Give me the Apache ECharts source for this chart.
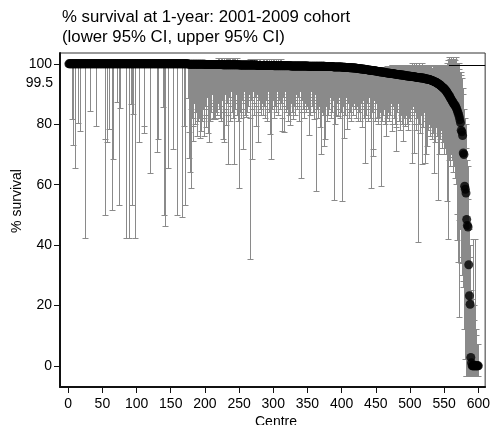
<!DOCTYPE html>
<html>
<head>
<meta charset="utf-8">
<script src="https://cdn.jsdelivr.net/npm/echarts@6/dist/echarts.min.js"></script>
<style>html,body{margin:0;padding:0;background:#fff}#chart{width:493px;height:425px}</style>
</head>
<body>
<div id="chart"></div>
<script>
// centres are ranked 1..600, 25 per row
var est = [
100,100,100,100,100,100,100,100,100,100,100,100,100,100,100,100,100,100,100,100,100,100,100,100,100,
100,100,100,100,100,100,100,100,100,100,100,100,100,100,100,100,100,100,100,100,100,100,100,100,100,
100,100,100,100,100,100,100,100,100,100,100,100,100,100,100,100,100,100,100,100,100,100,100,100,100,
100,100,100,100,100,100,100,100,100,100,100,100,100,100,100,100,100,100,100,100,100,100,100,100,100,
100,100,100,100,100,100,100,100,100,100,100,100,100,100,100,100,100,100,100,100,100,100,100,100,100,
100,100,100,100,100,100,100,100,100,100,100,100,100,100,100,100,100,100,100,100,100,100,100,100,100,
100,100,100,100,100,100,100,100,100,100,100,100,100,100,100,100,100,100,100,100,100,100,100,100,100,
99.9,99.9,99.9,99.9,99.9,99.9,99.9,99.9,99.9,99.9,99.9,99.9,99.9,99.9,99.9,99.9,99.9,99.9,99.9,99.9,99.9,99.9,99.9,99.9,99.9,
99.8,99.8,99.8,99.8,99.8,99.8,99.8,99.8,99.8,99.8,99.8,99.8,99.8,99.8,99.8,99.8,99.8,99.8,99.8,99.8,99.8,99.8,99.8,99.8,99.8,
99.7,99.7,99.7,99.7,99.7,99.7,99.7,99.7,99.7,99.7,99.7,99.7,99.7,99.7,99.7,99.7,99.7,99.7,99.7,99.7,99.7,99.7,99.7,99.7,99.7,
99.6,99.6,99.6,99.6,99.6,99.6,99.6,99.6,99.6,99.6,99.6,99.6,99.6,99.6,99.6,99.6,99.6,99.6,99.6,99.6,99.6,99.6,99.6,99.6,99.6,
99.5,99.5,99.5,99.5,99.5,99.5,99.5,99.5,99.5,99.5,99.5,99.5,99.5,99.5,99.5,99.5,99.5,99.5,99.5,99.5,99.5,99.5,99.5,99.5,99.5,
99.4,99.4,99.4,99.4,99.4,99.4,99.4,99.4,99.4,99.4,99.4,99.4,99.4,99.4,99.4,99.4,99.4,99.4,99.4,99.4,99.4,99.4,99.4,99.4,99.4,
99.3,99.3,99.3,99.3,99.3,99.3,99.3,99.3,99.3,99.3,99.3,99.3,99.3,99.3,99.3,99.3,99.3,99.3,99.3,99.3,99.3,99.3,99.3,99.3,99.3,
99.2,99.2,99.2,99.2,99.2,99.2,99.2,99.2,99.2,99.2,99.2,99.2,99.2,99.2,99.2,99.2,99.2,99.2,99.2,99.2,99.2,99.2,99.2,99.2,99.2,
99.1,99.1,99.1,99.1,99.1,99.1,99.1,99.1,99.1,99.1,99.1,99.1,99,99,99,99,99,99,99,99,99,99,99,99,99,
98.9,98.9,98.9,98.9,98.9,98.8,98.8,98.8,98.8,98.8,98.8,98.7,98.7,98.7,98.7,98.7,98.6,98.6,98.6,98.6,98.6,98.5,98.5,98.5,98.5,
98.4,98.4,98.4,98.3,98.3,98.3,98.2,98.2,98.2,98.1,98.1,98.1,98,98,98,97.9,97.9,97.9,97.8,97.8,97.8,97.7,97.7,97.7,97.6,
97.6,97.5,97.5,97.5,97.4,97.4,97.4,97.3,97.3,97.3,97.2,97.2,97.2,97.1,97.1,97,97,97,96.9,96.9,96.9,96.8,96.8,96.8,96.7,
96.7,96.7,96.6,96.6,96.6,96.5,96.5,96.5,96.4,96.4,96.4,96.3,96.3,96.3,96.2,96.2,96.2,96.1,96.1,96.1,96,96,96,95.9,95.9,
95.9,95.8,95.8,95.8,95.7,95.7,95.7,95.6,95.6,95.6,95.5,95.5,95.5,95.4,95.4,95.4,95.3,95.3,95.3,95.2,95.2,95.1,95.1,95,95,
94.9,94.9,94.8,94.8,94.7,94.6,94.5,94.4,94.3,94.2,94.1,94,93.9,93.8,93.6,93.5,93.3,93.2,93,92.8,92.6,92.4,92.2,92,91.8,
91.6,91.3,91,90.7,90.3,90,89.6,89.2,88.8,88.4,88,87.6,87.2,86.8,86.5,86.2,85.8,85.3,84.7,84,83.3,82.5,81.5,80.5,78,
77.5,76.3,70.5,70,59.5,58.5,57.2,48.5,46.5,46,33.5,23.2,20.4,2.8,1,0,0,0,0,0,0,0,0,0,0
];
var lowerCI = [
99,99,99,99,99,99,81.6,72.9,99,65.4,99,99,99,99,80.1,99,99,77.6,99,99,99,99,99,99,42.1,
99,99,99,99,99,99,84.3,99,99,99,99,99,99,99,99,99,79.3,99,99,99,99,99,99,99,99,
99,99,99,75.1,49.9,99,74,99,99,78.4,99,99,99,99,51.6,68.4,99,99,99,99,99,87.3,99,99,53.1,
99,85.2,99,99,99,99,99,99,99,99,42.1,99,99,42.1,99,99,86.6,99,53.1,99,83.4,99,99,42.1,99,
99,99,99,74,99,99,99,99,99,99,77.1,79.3,99,99,99,99,99,99,99,63.6,99,99,99,99,99,
99,99,99,99,99,70.8,75.1,99,99,99,99,99,99,85.4,99,49.9,46.2,99,99,99,99,65.4,99,99,99,
99,99,99,71.6,99,99,99,99,99,49.8,99,99,99,99,99,99,49.1,99,99,79.3,99,53.1,99,99,99,
88.6,77.3,68.8,64,58.8,85,82,79.3,74.3,87,80,84,89,76,81,86,82,75.4,83,77.7,88,81,85,76,82,
86,83,78.8,89,77.1,74,85,81,87,84,90,81.6,86,82,81.6,88,84,91,83,87,85,89,82,80.8,86,
88,74.9,74,84,90,85,79.6,87,66.6,83,89,86,81,91,84,88,82,87,66.6,85,90,83,88,81,58.8,
87,84,90,82,88,85,71.6,91,83,87,82.1,89,84,86,90,82,35.3,88,68.2,85,91,83,87,89,79.3,
86,90,84,73.8,88,85,91,83,87,89,83,86,90,82,88,85,80.8,91,84,87,76.6,68.2,89,85,88,
90,81.9,86,89,84,91,87,83,88,90,85,87,82,77.5,89,77.3,86,91,84,88,85,81,90,83,79.6,
87,89,84,81.6,91,86,88,83,90,85,87,89,80.8,86,91,62,84,88,85,90,82,87,89,84,86,
90,85,76.2,88,83,91,86,89,84,87,81.6,90,57.7,85,88,82,89,86,78.8,70.1,91,84,87,83,72.7,
88,74.9,86,81,90,83,87,85,89,82,91,84,88,86,54.7,79.9,90,83,87,82.7,85,89,82,88,84,
90,54.3,86,75.4,88,83,89,78.4,85,87,82,90,84,88,81,86,89,83,87,85,90,82,86,81,88,
84,89,81,87,85,78.8,88,82,86,67.1,90,83,87,81,85,89,82,58.8,86,84,71.6,69.3,88,81,85,
87,82,85,80,88,82.1,84,59.3,86,81,87,83,85,80,75.8,86,82,88,84,81,86,83,87,80,77.7,
86,82,85,80,79,70.9,84,87,81,85,78,83,86,80,74.3,84,82,86,79.3,83,80,85,78,82,84,
81,85,83,67.1,86,80,70.4,84,78,85,82,86,41,80,84,77,83,85,66.6,79,84,81,67,69.9,72.7,
82,78,84,80,76,83,79,75,82,77,63.8,80,74,79,76,81,54.8,69.9,75,78,78.2,72,77,74,70,
76,72,75,70,54.3,41.8,73,68,72,66,70,68,64,69,66,62,64,60,50,41.4,34.2,16,48,45,34,
36,30,28,26,12,2,-3.5,-3.5,-3.5,-3.5,-3.5,-3.5,-3.5,-3.5,-3.5,-3.5,-3.5,-3.5,-3.5,-3.5,-3.5,-3.5,-3.5,-3.5,-3.5
];
var upperCI = [
100,100,100,100,100,100,100,100,100,100,100,100,100,100,100,100,100,100,100,100,100,100,100,100,100,
100,100,100,100,100,100,100,100,100,100,100,100,100,100,100,100,100,100,100,100,100,100,100,100,100,
100,100,100,100,100,100,100,100,100,100,100,100,100,100,100,100,100,100,100,100,100,100,100,100,100,
100,100,100,100,100,100,100,100,100,100,100,100,100,100,100,100,100,100,100,100,100,100,100,100,100,
100,100,100,100,100,100,100,100,100,100,100,100,100,100,100,100,100,100,100,100,100,100,100,100,100,
100,100,100,100,100,100,100,100,100,100,100,100,100,100,100,100,100,100,100,100,100,100,100,100,100,
100,100,100,100,100,100,100,100,100,100,100,100,100,100,100,100,100,100,100,100,100,100,100,100,100,
100,100,100,100,100,100,100,100,100,100,100,100,100,100,100,100,100,100,100,100,100,100,100,100,100,
100,100,100,100,100,100,100,100,100,100,100,100,100,100,100,100,100,100,100,101.8,100,101.8,100,101.8,100,
101.8,100,101.8,101.8,100,101.8,100,101.8,100,101.8,101.8,100,101.8,100,101.8,100,101.8,100,101.8,101.8,100,101.8,100,100,100,
100,100,100,100,100,100,100,100,100,100,100,100,100,100,100,101.5,100,101.5,100,101.5,100,100,101.5,100,101.5,
100,101.5,100,100,101.5,100,101.5,100,100,101.5,100,101.5,100,100,101.5,100,101.5,100,100,101.5,100,101.5,100,100,101.5,
100,101.5,100,100,101.5,100,101.5,100,100,101.5,100,101.5,100,100,100,100,100,100,100,100,100,100,100,100,100,
100,100,100,100,100,100,100,100,100,100,100,100,100,100,100,100,100,100,100,100,100,100,100,100,100,
100,100,100,100,100,100,100,100,100,100,100,100,100,100,100,100,100,100,100,100,100,100,100,100,100,
100,100,100,100,100,100,100,100,100,100,100,100,100,100,100,100,100,100,100,100,100,100,100,100,100,
99.8,99.8,99.8,99.8,99.8,99.8,99.8,99.8,99.8,99.8,99.8,99.6,99.6,99.6,99.6,99.6,99.6,99.6,99.6,99.6,99.6,99.5,99.5,99.5,99.5,
99.4,99.4,99.4,99.3,99.3,99.3,99.2,99.2,99.2,99.1,99.1,99.1,99,99,99,98.9,98.9,98.9,98.8,98.8,98.8,98.7,98.7,98.7,98.6,
98.8,98.7,98.7,98.7,98.6,98.6,98.6,98.6,98.6,98.6,98.7,98.7,98.8,98.8,98.9,98.9,99,99,99,99.1,99.1,99.2,99.2,99.3,99.3,
99.3,99.3,99.3,99.3,99.3,99.3,99.3,99.3,99.3,99.3,99.3,99.3,99.3,99.3,99.3,99.3,99.3,99.3,99.3,99.3,99.3,99.3,99.3,99.3,99.3,
99.3,99.3,100,99.3,99.3,100.2,99.3,99.3,99.3,100,99.3,99.3,99.3,100.2,99.3,99.3,99.3,99.3,100,99.3,99.3,99.3,99.3,99.3,99.3,
99.3,99,99.3,98.5,99.3,99.3,99,98.5,99.3,99.3,99,99.3,98.5,99.3,99.3,99,99.3,99.3,98.5,99.3,99.3,99.3,99,99.3,99.3,
99.3,99.3,99.3,99.5,100,100,101,102,101.5,100,102,101,100,102,101.5,100,101,102,100,100,100,100,98,97,97,
96,95,92,90,85,82,80,72,68,66,55,45,40,36,25,22,18,42,15,20,42,10,12,7,7
];
var xTicks = [0, 50, 100, 150, 200, 250, 300, 350, 400, 450, 500, 550, 600];
var yTicks = [0, 20, 40, 60, 80, 100];
var refLine = 99.5;

var font = "'Liberation Sans', Arial, sans-serif";
var barData = [], dotData = [];
for (var i = 0; i < est.length; i++) {
  barData.push([i + 1, lowerCI[i], upperCI[i]]);
  dotData.push([i + 1, est[i]]);
}

// snap to the pixel grid so that thin bars stay crisp
function snap(v) { return Math.round(v - 0.5) + 0.5; }

function renderBar(params, api) {
  var lo = api.coord([api.value(0), api.value(1)]);
  var hi = api.coord([api.value(0), api.value(2)]);
  var x = snap(lo[0]), y1 = snap(lo[1]), y2 = snap(hi[1]);
  var hw = 3;
  var st = {stroke: '#8a8a8a', lineWidth: 1, fill: null};
  return {type: 'group', children: [
    {type: 'line', shape: {x1: x, y1: y1, x2: x, y2: y2}, style: st},
    {type: 'line', shape: {x1: x - hw, y1: y1, x2: x + hw, y2: y1}, style: st},
    {type: 'line', shape: {x1: x - hw, y1: y2, x2: x + hw, y2: y2}, style: st}
  ]};
}

var chart = echarts.init(document.getElementById('chart'));
chart.setOption({
  animation: false,
  backgroundColor: '#fff',
  grid: {left: 60, right: 7, top: 53, bottom: 38, show: true, borderColor: '#333', borderWidth: 1},
  xAxis: {
    type: 'value', min: -12, max: 610,
    axisLine: {show: true, onZero: false, lineStyle: {color: '#111', width: 2}},
    axisTick: {show: true, length: 6, lineStyle: {color: '#111'}, customValues: xTicks},
    axisLabel: {color: '#000', fontSize: 14, fontFamily: font, margin: 10, customValues: xTicks},
    splitLine: {show: false}
  },
  yAxis: {
    type: 'value', min: -7, max: 103.6,
    axisLine: {show: true, onZero: false, lineStyle: {color: '#111', width: 2}},
    axisTick: {show: true, length: 6, lineStyle: {color: '#111'}, customValues: yTicks},
    axisLabel: {color: '#000', fontSize: 14, fontFamily: font, margin: 8, customValues: yTicks},
    splitLine: {show: false}
  },
  graphic: [
    {type: 'text', x: 62, y: 9, style: {text: '% survival at 1-year: 2001-2009 cohort', fontSize: 16.8, fontFamily: font, fill: '#000'}},
    {type: 'text', x: 62, y: 29, style: {text: '(lower 95% CI, upper 95% CI)', fontSize: 16.8, fontFamily: font, fill: '#000'}},
    {type: 'text', x: 17, y: 201, rotation: Math.PI / 2, style: {text: '% survival', fontSize: 14, fontFamily: font, fill: '#000', align: 'center', verticalAlign: 'middle'}},
    {type: 'text', x: 53, y: 83, style: {text: '99.5', fontSize: 14, fontFamily: font, fill: '#000', align: 'right', verticalAlign: 'middle'}},
    {type: 'text', x: 276, y: 415, style: {text: 'Centre', fontSize: 14, fontFamily: font, fill: '#000', align: 'center', verticalAlign: 'top'}}
  ],
  series: [
    {
      type: 'custom', renderItem: renderBar, data: barData,
      encode: {x: 0, y: [1, 2]}, z: 2, silent: true
    },
    {
      type: 'scatter', data: dotData, symbolSize: 9, z: 3, silent: true,
      itemStyle: {color: '#000'},
      markLine: {
        symbol: 'none', silent: true, label: {show: false},
        lineStyle: {color: '#000', width: 1, type: 'solid'},
        data: [[{coord: [557, refLine]}, {coord: [610, refLine]}]]
      }
    }
  ]
});
</script>
</body>
</html>
